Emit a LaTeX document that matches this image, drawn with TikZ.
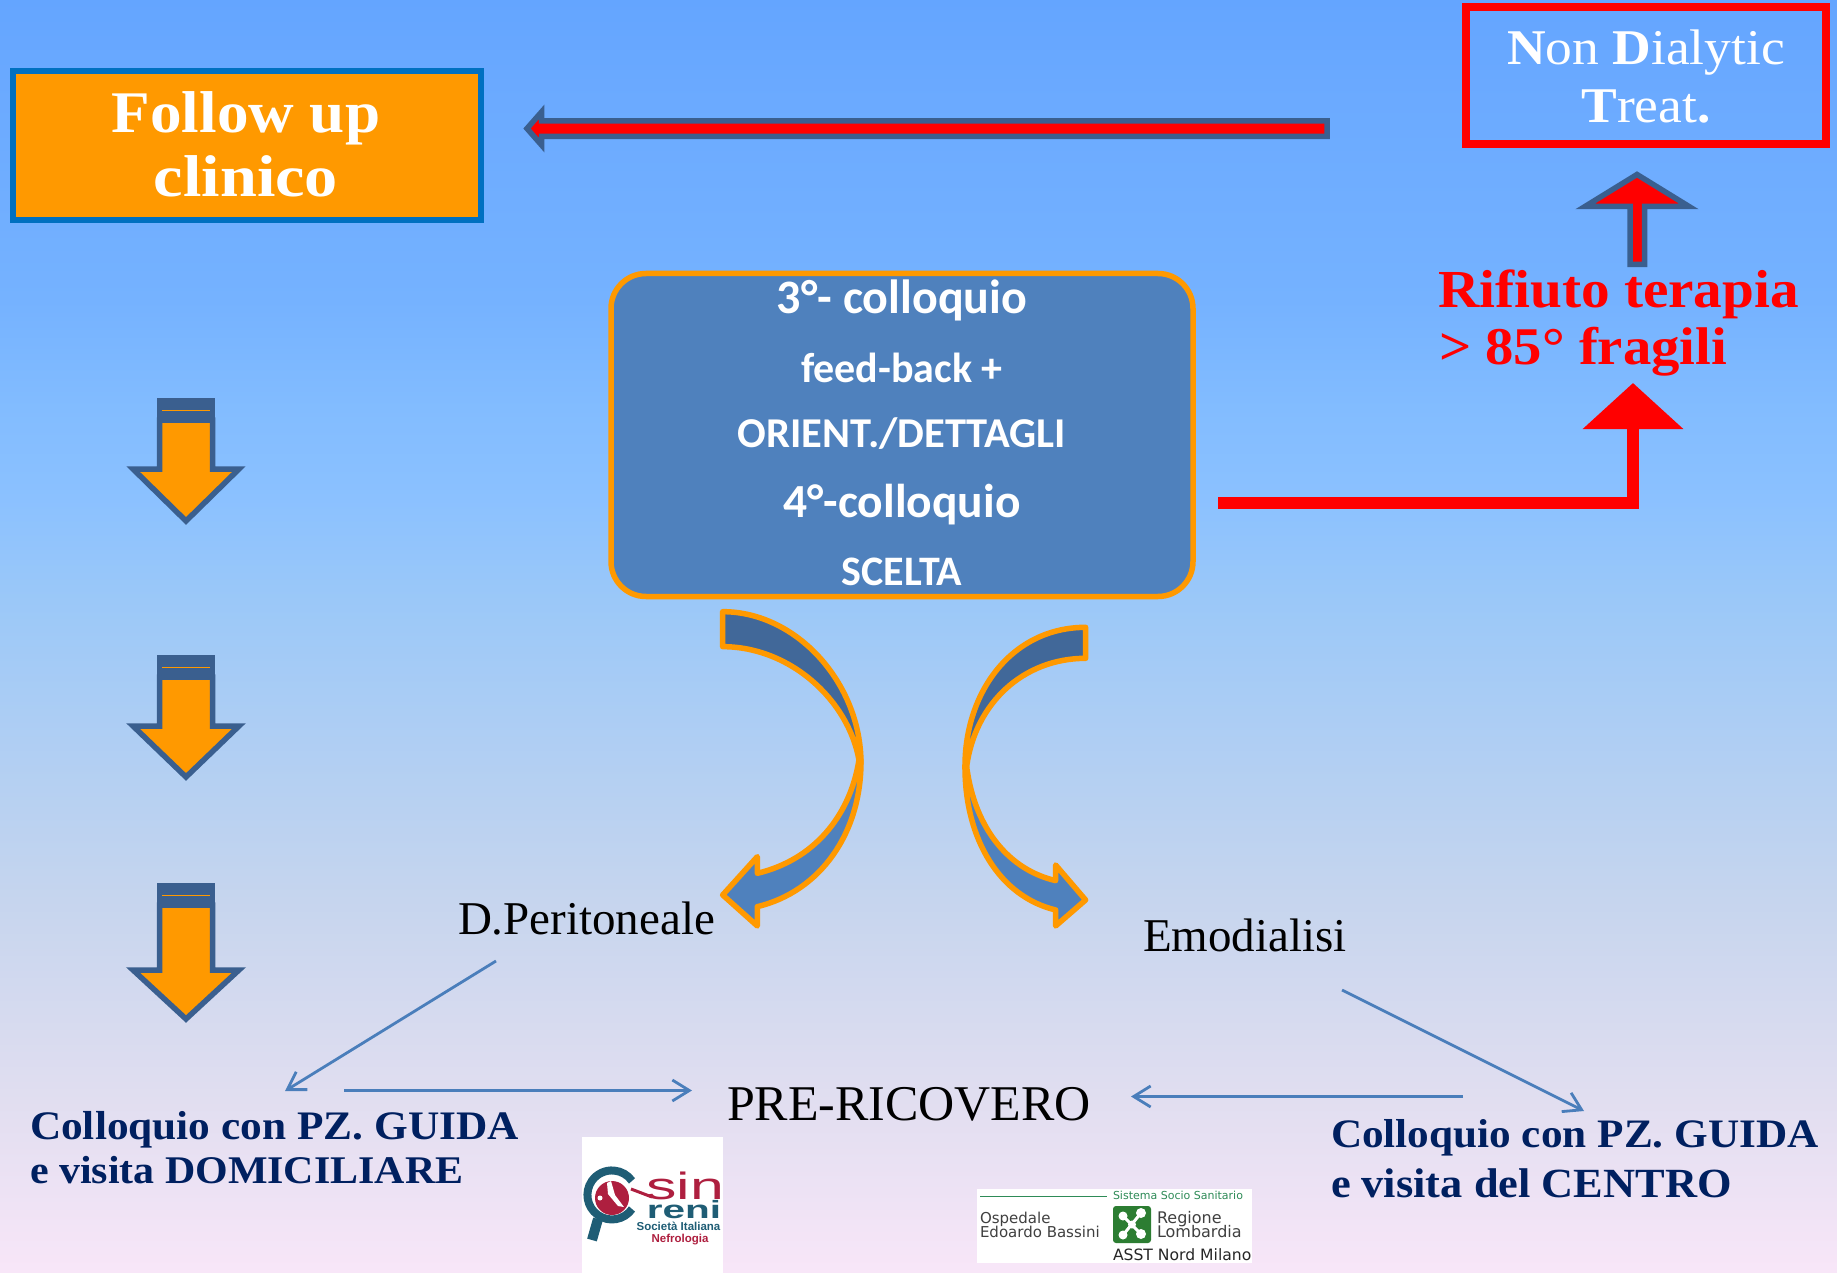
\documentclass[tikz,border=0pt]{standalone}
\usepackage{fontspec}
\setmainfont{Liberation Serif}
\newfontfamily\geo[FakeStretch=1.07]{Liberation Serif}
\newfontfamily\calb{Carlito}
\newfontfamily\lsans{Liberation Sans}
\newfontfamily\dsans{DejaVu Sans}
\usetikzlibrary{arrows.meta}
\definecolor{bgA}{RGB}{100,165,255}
\definecolor{bgB}{RGB}{107,170,255}
\definecolor{bgC}{RGB}{117,178,255}
\definecolor{bgD}{RGB}{130,188,255}
\definecolor{bgDD}{RGB}{139,193,255}
\definecolor{bgE}{RGB}{155,200,248}
\definecolor{bgF}{RGB}{198,213,238}
\definecolor{bgG}{RGB}{225,222,240}
\definecolor{bgH}{RGB}{248,230,248}
\definecolor{ora}{RGB}{255,153,0}
\definecolor{edgeblue}{RGB}{58,95,143}
\definecolor{boxblue}{RGB}{79,129,189}
\definecolor{darkblue}{RGB}{65,104,153}
\definecolor{navyb}{RGB}{0,32,96}
\definecolor{linkblue}{RGB}{74,126,187}
\definecolor{frameblue}{RGB}{0,112,192}
\definecolor{tealb}{RGB}{31,93,117}
\definecolor{crim}{RGB}{174,31,63}
\definecolor{lgreen}{RGB}{46,139,87}
\definecolor{sqgreen}{RGB}{44,125,50}
\pgfdeclareverticalshading{bgshade}{100bp}{color(0bp)=(bgH); color(25bp)=(bgH); color(31.8bp)=(bgG); color(39.65bp)=(bgF); color(51.4bp)=(bgE); color(55.4bp)=(bgDD); color(59bp)=(bgD); color(63.2bp)=(bgC); color(71.07bp)=(bgB); color(75bp)=(bgA); color(100bp)=(bgA)}
\newcommand{\fsz}[1]{\fontsize{#1}{#1}\selectfont}
\tikzset{
  txt/.style={anchor=base,inner sep=0pt,outer sep=0pt},
  txtw/.style={anchor=base west,inner sep=0pt,outer sep=0pt},
  downarrow/.style={draw=edgeblue,fill=ora,line width=5.5pt,miter limit=10},
  redarrow/.style={draw=edgeblue,fill=red,line width=5.5pt,miter limit=10},
  bendtop/.style={draw=ora,fill=darkblue,line width=5.5pt,line join=round},
  bendlow/.style={draw=ora,fill=boxblue,line width=5.5pt,line join=round},
  thinarrow/.style={draw=linkblue,line width=2.8pt,-{Straight Barb[length=17pt,width=21pt,line width=2.8pt]}}
}
\begin{document}
\begin{tikzpicture}[x=1pt,y=-1pt]
\useasboundingbox (0,0) rectangle (1837,1273);
\shade[shading=bgshade] (0,0) rectangle (1837,1273);

% boxes
\node[draw=frameblue,fill=ora,line width=6pt,minimum width=468pt,minimum height=149pt,inner sep=0pt] (follow) at (246.5,145.5) {};
\node[draw=red,line width=8pt,minimum width=360pt,minimum height=137pt,inner sep=0pt] (nondial) at (1646,76) {};
\node[draw=ora,fill=boxblue,line width=5.5pt,rounded corners=35pt,minimum width=582pt,minimum height=323pt,inner sep=0pt] (centre) at (902,435) {};

% box texts
\node[txt,text=white] (f1) at (246,133) {\geo\bfseries\fsz{59}Follow up};
\node[txt,text=white,xscale=1.05] (f2) at (246,197) {\geo\bfseries\fsz{59}clinico};
\node[txt,text=white] (n1) at (1646,65) {\geo\fsz{50}\textbf{N}on \textbf{D}ialytic};
\node[txt,text=white] (n2) at (1646,123) {\geo\fsz{50}\textbf{T}reat\textbf{.}};
\node[txt,text=white] (c1) at (902,314) {\calb\bfseries\fsz{48}3°- colloquio};
\node[txt,text=white] (c2) at (902,382) {\calb\bfseries\fsz{42}feed-back +};
\node[txt,text=white] (c3) at (902,447) {\calb\bfseries\fsz{42.5}ORIENT./DETTAGLI};
\node[txt,text=white] (c4) at (902,517) {\calb\bfseries\fsz{47.5}4°-colloquio};
\node[txt,text=white] (c5) at (902,585) {\calb\bfseries\fsz{42}SCELTA};

% other labels
\node[txtw,text=red] (r1) at (1438,308) {\geo\bfseries\fsz{53.5}Rifiuto terapia};
\node[txtw,text=red] (r2) at (1439,364) {\geo\bfseries\fsz{53}> 85° fragili};
\node[txtw] (dp) at (458,934) {\fsz{47}D.Peritoneale};
\node[txtw] (emo) at (1143,951) {\fsz{47}Emodialisi};
\node[txtw] (pre) at (727,1120) {\fsz{50}PRE-RICOVERO};
\node[txtw,text=navyb] (l1) at (30,1139) {\geo\bfseries\fsz{40.5}Colloquio con PZ. GUIDA};
\node[txtw,text=navyb] (l2) at (30,1183) {\geo\bfseries\fsz{39.2}e visita DOMICILIARE};
\node[txtw,text=navyb] (g1) at (1331,1147) {\geo\bfseries\fsz{40.4}Colloquio con PZ. GUIDA};
\node[txtw,text=navyb] (g2) at (1331,1197) {\geo\bfseries\fsz{41.5}e visita del CENTRO};

% long red arrow (Non Dialytic -> Follow up)
\draw[redarrow] (1327,121) -- (541.5,121) -- (541.5,112) -- (527,128.5) -- (541.5,145) -- (541.5,136.5) -- (1327,136.5) -- cycle;

% up arrow
\draw[redarrow] (1637,174.5) -- (1689,206.5) -- (1644.5,206.5) -- (1644.5,264.5) -- (1630,264.5) -- (1630,206.5) -- (1585,206.5) -- cycle;

% red elbow connector
\coordinate (elbowstart) at (1218,503);
\coordinate (elbowend) at (1633,383);
\draw[red,line width=12pt,-{Triangle[length=46pt,width=98pt]}] (elbowstart) -| (elbowend);

% down arrows
\foreach \ya/\yb/\yc in {398/466/525, 655/723/781, 883/967/1023}{
  \fill[edgeblue] (157,\ya) rectangle (215,\ya+24);
  \draw[downarrow] (159.5,\ya+22) -- (159.5,\yb+3) -- (133,\yb+3) -- (186,\yc-4) -- (239,\yb+3) -- (212.5,\yb+3) -- (212.5,\ya+22) -- cycle;
  \fill[ora] (162,\ya+11.5) rectangle (210,\ya+12.5);
}

% bent arrows
\begin{scope}[shift={(680,590)},x=0.3333pt,y=-0.3333pt]
  \draw[bendtop] (128,65) .. controls (350,65) and (543,280) .. (543,520) -- (537,510) .. controls (505,330) and (330,170) .. (128,170) -- cycle;
  \draw[bendlow] (543,510) .. controls (545,730) and (420,905) .. (232,950) -- (232,1008) -- (128,915) -- (232,800) -- (232,850) .. controls (400,810) and (510,680) .. (537,510) -- cycle;
  \draw[bendtop] (1217,112) .. controls (1000,112) and (855,300) .. (855,530) -- (860,530) .. controls (885,340) and (1030,205) .. (1217,205) -- cycle;
  \draw[bendlow] (855,530) .. controls (855,750) and (960,920) .. (1127,960) -- (1127,1008) -- (1217,930) -- (1127,825) -- (1127,872) .. controls (990,840) and (885,720) .. (860,530) -- cycle;
\end{scope}

% thin connectors
\coordinate (dpa) at (496,961);
\coordinate (dpb) at (285,1091);
\coordinate (la) at (344,1090.5);
\coordinate (lb) at (692,1090.5);
\coordinate (ra) at (1463,1096.5);
\coordinate (rb) at (1131,1096.5);
\coordinate (ea) at (1342,990);
\coordinate (eb) at (1584,1111);
\draw[thinarrow] (dpa) -- (dpb);
\draw[thinarrow] (la) -- (lb);
\draw[thinarrow] (ra) -- (rb);
\draw[thinarrow] (ea) -- (eb);

% SIN RENI logo
\fill[white] (582,1137) rectangle (723,1273);
\fill[crim] (612,1198) circle (17);
\fill[white] (607,1183) -- (611,1181) -- (615,1195) -- (624,1207) -- (618,1206) -- (608,1194) -- cycle;
\fill[white] (600,1198) circle (2.5);
\draw[tealb,line width=8pt] (632,1209) arc[start angle=35,delta angle=290,radius=24.5];
\draw[tealb,line width=10pt] (598,1219) -- (592,1240);
\draw[crim,line width=3pt] (631,1189) -- (652,1197);
\node[txt,text=crim,xscale=1.6] (sin) at (685,1199) {\lsans\fsz{38}sin};
\node[txt,text=tealb,xscale=1.62] (reni) at (684,1218) {\lsans\bfseries\fsz{25}reni};
\node[txt,text=tealb] (soc) at (678.5,1230) {\lsans\bfseries\fsz{11.5}Società Italiana};
\node[txt,text=crim] (nef) at (680,1242) {\lsans\bfseries\fsz{11.5}Nefrologia};

% Bassini logo
\fill[white] (977,1189) rectangle (1252,1263);
\draw[lgreen,line width=1pt] (980,1196) -- (1107,1196);
\node[txtw,text=lgreen] (sis) at (1113,1199) {\dsans\fsz{11}Sistema Socio Sanitario};
\node[txtw,text=black!75] (osp) at (980,1223) {\dsans\fsz{15}Ospedale};
\node[txtw,text=black!75] (edo) at (980,1237) {\dsans\fsz{15}Edoardo Bassini};
\fill[sqgreen,rounded corners=3pt] (1113,1206) rectangle (1151,1243);
\fill[white] (1123,1216) circle (4.5) (1141,1213) circle (5) (1123,1235) circle (4.5) (1141,1234) circle (5) (1132,1224.5) circle (4);
\draw[white,line width=3pt] (1123,1216) -- (1141,1234) (1141,1213) -- (1123,1235);
\node[txtw,text=black!75] (reg) at (1157,1223) {\dsans\fsz{16}Regione};
\node[txtw,text=black!75] (lom) at (1157,1237) {\dsans\fsz{16}Lombardia};
\node[txtw,text=black!85] (asst) at (1113,1260) {\dsans\fsz{15.6}ASST Nord Milano};
\end{tikzpicture}
\end{document}
